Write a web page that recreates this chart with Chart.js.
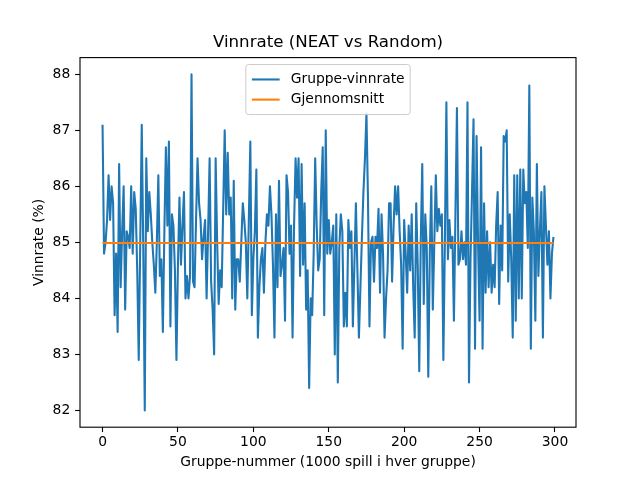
<!DOCTYPE html>
<html lang="no">
<head>
<meta charset="utf-8">
<title>Vinnrate (NEAT vs Random)</title>
<script src="https://cdn.jsdelivr.net/npm/chart.js@4.4.1/dist/chart.umd.min.js"></script>
<style>
  html, body { margin: 0; padding: 0; background: #fff; }
  canvas { display: block; }
</style>
</head>
<body>
<canvas id="graf" width="640" height="480"></canvas>
<script>
/* Vinnrate per gruppe (1000 spill i hver gruppe), NEAT mot tilfeldig spiller. */

// Vinnrate i prosent for gruppe 0..299, lest av fra figuren
const vinnrate = [
  87.1, 84.8, 85.0, 85.4, 86.2, 85.4, 86.0, 85.7, 83.7, 84.8,
  83.4, 86.4, 84.2, 85.2, 86.0, 83.8, 85.2, 85.1, 84.9, 86.0,
  84.8, 85.9, 85.6, 84.5, 82.9, 85.0, 87.1, 84.9, 82.0, 86.5,
  85.2, 85.9, 85.5, 85.0, 84.6, 84.1, 85.0, 86.2, 84.4, 84.7,
  83.4, 85.2, 86.7, 85.3, 86.8, 83.5, 85.5, 85.3, 84.5, 82.9,
  84.6, 85.8, 84.6, 85.3, 85.9, 84.0, 84.4, 84.0, 84.4, 88.0,
  84.3, 84.2, 85.4, 86.5, 85.7, 85.4, 84.7, 85.1, 85.4, 84.0,
  85.2, 86.5, 84.3, 83.8, 83.0, 86.5, 85.0, 83.9, 84.5, 84.2,
  85.6, 87.0, 85.5, 86.6, 85.5, 85.8, 84.0, 86.1, 83.8, 84.7,
  84.7, 84.3, 85.0, 85.7, 85.4, 85.0, 84.0, 85.4, 86.8, 83.7,
  84.7, 85.2, 86.3, 83.3, 84.2, 84.7, 84.9, 84.1, 85.0, 85.5,
  85.3, 86.0, 85.5, 84.6, 83.3, 85.5, 84.2, 86.1, 84.4, 84.6,
  84.9, 83.6, 86.2, 85.9, 84.8, 85.3, 83.3, 85.3, 86.5, 85.8,
  86.5, 84.4, 86.4, 84.6, 85.7, 83.8, 84.5, 82.4, 84.0, 83.7,
  84.8, 86.5, 85.3, 84.5, 84.7, 85.9, 86.7, 83.7, 87.0, 84.8,
  85.4, 84.8, 85.0, 85.3, 83.0, 85.5, 82.5, 84.9, 85.5, 85.2,
  83.5, 84.1, 83.5, 85.4, 84.9, 85.2, 83.5, 84.6, 85.7, 84.5,
  83.3, 84.2, 85.1, 85.9, 86.5, 87.3, 85.8, 83.5, 85.0, 85.1,
  84.3, 85.1, 84.9, 85.6, 84.1, 85.5, 84.8, 83.3, 84.0, 84.5,
  85.7, 85.7, 84.3, 85.3, 86.0, 85.5, 86.0, 85.2, 84.6, 83.1,
  85.4, 84.8, 84.1, 85.3, 84.5, 85.5, 84.2, 83.3, 85.7, 84.6,
  82.7, 85.0, 86.4, 83.9, 85.5, 84.9, 82.6, 84.8, 86.0, 83.8,
  85.0, 86.2, 85.2, 85.6, 85.3, 85.5, 82.9, 85.0, 87.5, 84.7,
  85.4, 84.9, 85.1, 83.6, 85.5, 87.4, 84.6, 84.7, 85.2, 84.7,
  85.0, 84.6, 87.5, 82.5, 84.7, 85.9, 87.2, 83.1, 86.9, 85.0,
  83.6, 86.7, 83.1, 85.7, 84.1, 85.2, 84.2, 85.0, 84.1, 84.6,
  84.2, 85.3, 85.9, 83.9, 85.3, 84.5, 86.9, 86.8, 87.0, 84.3,
  85.5, 84.7, 83.3, 86.2, 83.6, 86.2, 84.0, 86.3, 84.0, 86.3,
  85.7, 85.9, 84.9, 87.8, 83.1, 85.8, 85.2, 83.6, 86.4, 84.4,
  85.2, 85.9, 83.3, 86.0, 85.3, 84.6, 85.2, 84.0, 84.8, 85.1,
];

// snittet slik det ligger i figuren (oransje linje)
const gjennomsnitt = 84.99;

const xTicks = [0, 50, 100, 150, 200, 250, 300];
const yTicks = [82, 83, 84, 85, 86, 87, 88];

const tittel = "Vinnrate (NEAT vs Random)";
const xTittel = "Gruppe-nummer (1000 spill i hver gruppe)";
const yTittel = "Vinnrate (%)";

const FONT = "DejaVu Sans";
const PT = 100 / 72; // matplotlib-punkter -> piksler ved 100 dpi

// gruppenummer = posisjon i lista
const punkter = vinnrate.map((v, i) => ({ x: i, y: v }));
const snittLinje = [
  { x: 0, y: gjennomsnitt },
  { x: vinnrate.length - 1, y: gjennomsnitt },
];

// Tittel, ramme rundt plottet og legende i matplotlib-stil
const mplPynt = {
  id: "mplPynt",
  afterDraw(chart) {
    const { ctx, chartArea: a } = chart;
    ctx.save();

    // ramme (alle fire sider)
    ctx.strokeStyle = "#000";
    ctx.lineWidth = 0.8 * PT;
    ctx.strokeRect(a.left, a.top, a.right - a.left, a.bottom - a.top);

    // tittel
    ctx.fillStyle = "#000";
    ctx.font = `${12 * PT}px "${FONT}"`;
    ctx.textAlign = "center";
    ctx.textBaseline = "alphabetic";
    ctx.fillText(tittel, (a.left + a.right) / 2, a.top - 6 * PT - 2);

    // legende, øverst i midten
    const fs = 10 * PT;
    ctx.font = `${fs}px "${FONT}"`;
    const sett = chart.data.datasets;
    const tekstBredde = Math.max(...sett.map(d => ctx.measureText(d.label).width));
    const pad = 0.4 * fs, handle = 2 * fs, hpad = 0.8 * fs, rad = 0.7 * fs;
    const radH = fs * 1.45;
    const w = pad * 2 + 0.5 + handle + hpad + tekstBredde;
    const h = pad * 2 + radH * sett.length - 0.1 * fs;
    const bx = (a.left + a.right) / 2 - w / 2;
    const by = a.top + 0.5 * fs;
    ctx.beginPath();
    ctx.roundRect(bx, by, w, h, 0.2 * fs);
    ctx.fillStyle = "rgba(255,255,255,0.8)";
    ctx.fill();
    ctx.strokeStyle = "#cccccc";
    ctx.lineWidth = 1;
    ctx.stroke();

    ctx.textAlign = "left";
    ctx.textBaseline = "middle";
    sett.forEach((d, i) => {
      const cy = by + pad + rad * 0 + radH * i + radH / 2 - 0.05 * fs;
      const hx = bx + pad + 0.5;
      ctx.beginPath();
      ctx.moveTo(hx, cy);
      ctx.lineTo(hx + handle, cy);
      ctx.strokeStyle = d.borderColor;
      ctx.lineWidth = 1.5 * PT;
      ctx.stroke();
      ctx.fillStyle = "#000";
      ctx.fillText(d.label, hx + handle + hpad, cy);
    });

    ctx.restore();
  },
};

const tickFont = { family: FONT, size: 10 * PT };

new Chart(document.getElementById("graf"), {
  type: "line",
  data: {
    datasets: [
      {
        label: "Gruppe-vinnrate",
        data: punkter,
        borderColor: "#1f77b4",
        borderWidth: 1.5 * PT,
        borderJoinStyle: "round",
        pointRadius: 0,
        tension: 0,
        order: 1,
      },
      {
        label: "Gjennomsnitt",
        data: snittLinje,
        borderColor: "#ff7f0e",
        borderWidth: 1.5 * PT,
        pointRadius: 0,
        tension: 0,
        order: 0,
      },
    ],
  },
  options: {
    responsive: false,
    animation: false,
    devicePixelRatio: 1,
    layout: { padding: { left: 0, right: 64, top: 57.6, bottom: 0 } },
    plugins: {
      legend: { display: false },
      title: { display: false },
      tooltip: { enabled: false },
    },
    scales: {
      x: {
        type: "linear",
        min: -14.95,
        max: 313.95,
        afterFit: s => { s.height = 480 - 427.2; },
        afterBuildTicks: s => { s.ticks = xTicks.map(v => ({ value: v })); },
        grid: { drawOnChartArea: false, tickLength: 3.5 * PT, tickColor: "#000", tickWidth: 0.8 * PT },
        border: { display: false },
        ticks: { font: tickFont, color: "#000", padding: 3.5 * PT - 3, maxRotation: 0, callback: v => String(v) },
        title: { display: true, text: xTittel, font: tickFont, color: "#000", padding: { top: 0, bottom: 9 } },
      },
      y: {
        type: "linear",
        min: 81.7,
        max: 88.3,
        afterFit: s => { s.width = 80; },
        afterBuildTicks: s => { s.ticks = yTicks.map(v => ({ value: v })); },
        grid: { drawOnChartArea: false, tickLength: 3.5 * PT, tickColor: "#000", tickWidth: 0.8 * PT },
        border: { display: false },
        ticks: { font: tickFont, color: "#000", padding: 3.5 * PT, callback: v => String(v) },
        title: { display: true, text: yTittel, font: tickFont, color: "#000", padding: { top: 31, bottom: 0 } },
      },
    },
  },
  plugins: [mplPynt],
});
</script>
</body>
</html>
